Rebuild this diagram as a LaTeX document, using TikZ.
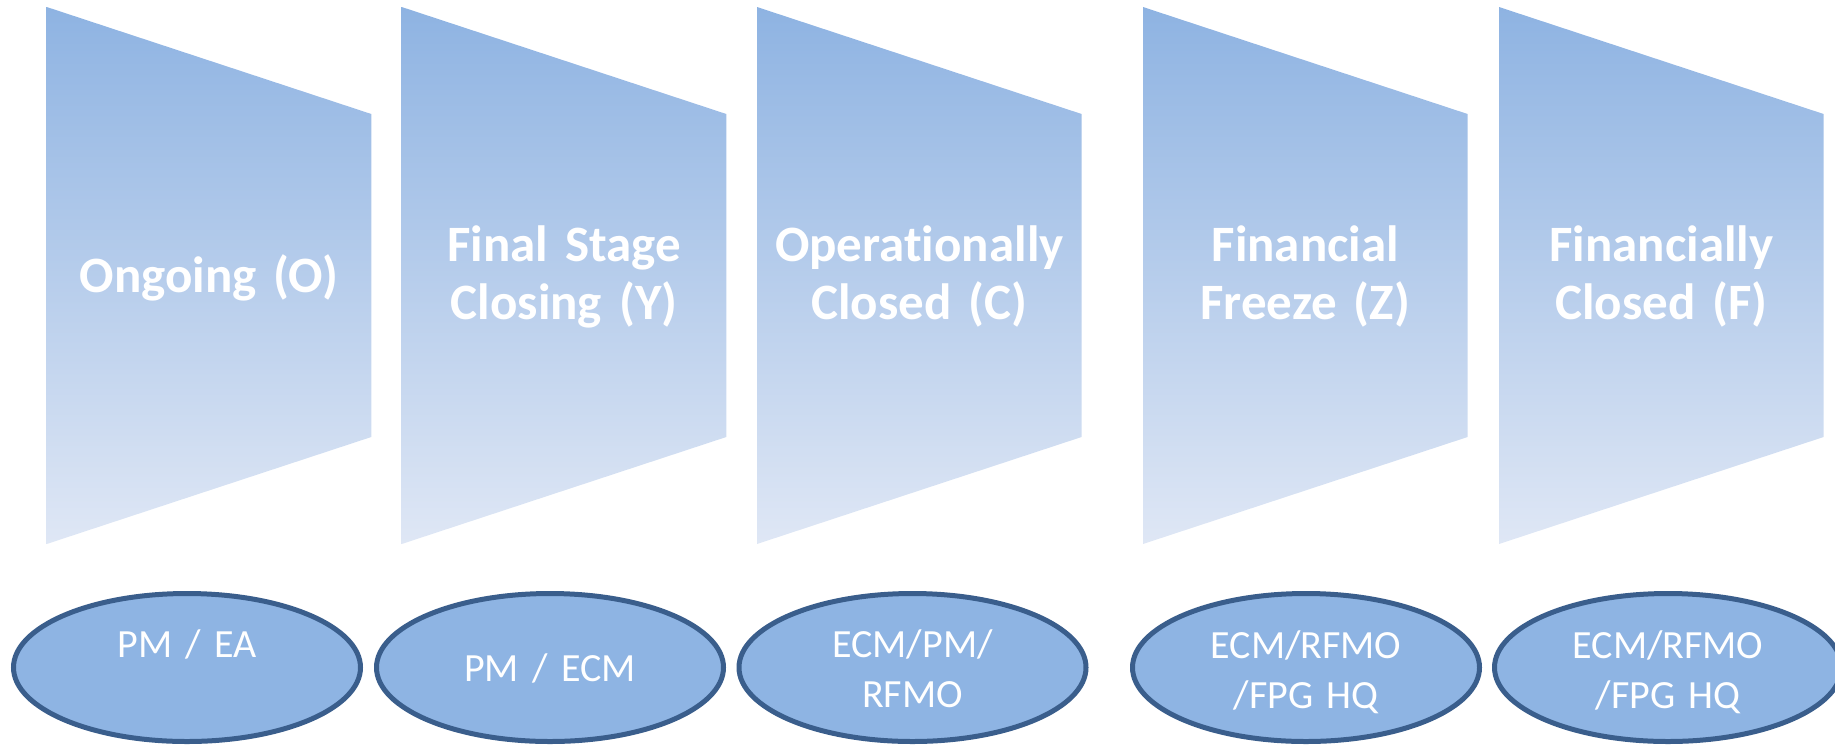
\documentclass[tikz,border=0pt]{standalone}
\usepackage{fontspec}
\setmainfont{Carlito}[Ligatures={NoCommon,NoContextual}]
\usetikzlibrary{shapes.geometric}
\definecolor{gtop}{RGB}{142,179,226}
\definecolor{gbot}{RGB}{223,231,245}
\definecolor{efill}{RGB}{142,180,227}
\definecolor{edraw}{RGB}{58,94,140}
\begin{document}
\begin{tikzpicture}[x=1pt,y=-1pt,
  stage/.style={shading=axis, top color=gtop, bottom color=gbot, draw=none},
  stagetext/.style={text=white, font=\fontsize{51}{58}\selectfont\bfseries, align=center, anchor=base, text width=320pt, inner sep=0pt},
  role/.style={ellipse, draw=edraw, line width=5pt, fill=efill, minimum width=347pt, minimum height=148pt, inner sep=0pt},
  roletext/.style={text=white, font=\fontsize{40}{50}\selectfont, align=center, anchor=base, text width=340pt, inner sep=0pt}]
\useasboundingbox (0,0) rectangle (1835,745);
\begin{scope}
\clip (0,0) rectangle (1835,745);
% stages
\foreach \L in {46.7,401.7,757,1143,1499}{
  \path[stage] (\L,7) -- (\L+324.6,114) -- (\L+324.6,437) -- (\L,544) -- cycle;
}
\node[stagetext] (s1) at (209,292) {Ongoing (O)};
\node[stagetext] (s2) at (564,261) {Final Stage\\Closing (Y)};
\node[stagetext] (s3) at (919.3,261) {Operationally\\Closed (C)};
\node[stagetext] (s4) at (1305.3,261) {Financial\\Freeze (Z)};
\node[stagetext] (s5) at (1661.3,261) {Financially\\Closed (F)};
% roles
\node[role] (e1) at (187,667.5) {};
\node[role] (e2) at (550,667.5) {};
\node[role] (e3) at (912.5,667.5) {};
\node[role] (e4) at (1306,667.5) {};
\node[role] (e5) at (1668,667.5) {};
\node[roletext] (r1) at (187,657) {PM / EA};
\node[roletext] (r2) at (550,681.7) {PM / ECM};
\node[roletext] (r3) at (912.5,657) {ECM/PM/\\RFMO};
\node[roletext] (r4) at (1306,658) {ECM/RFMO\\/FPG HQ};
\node[roletext] (r5) at (1668,658) {ECM/RFMO\\/FPG HQ};
\end{scope}
\end{tikzpicture}
\end{document}
